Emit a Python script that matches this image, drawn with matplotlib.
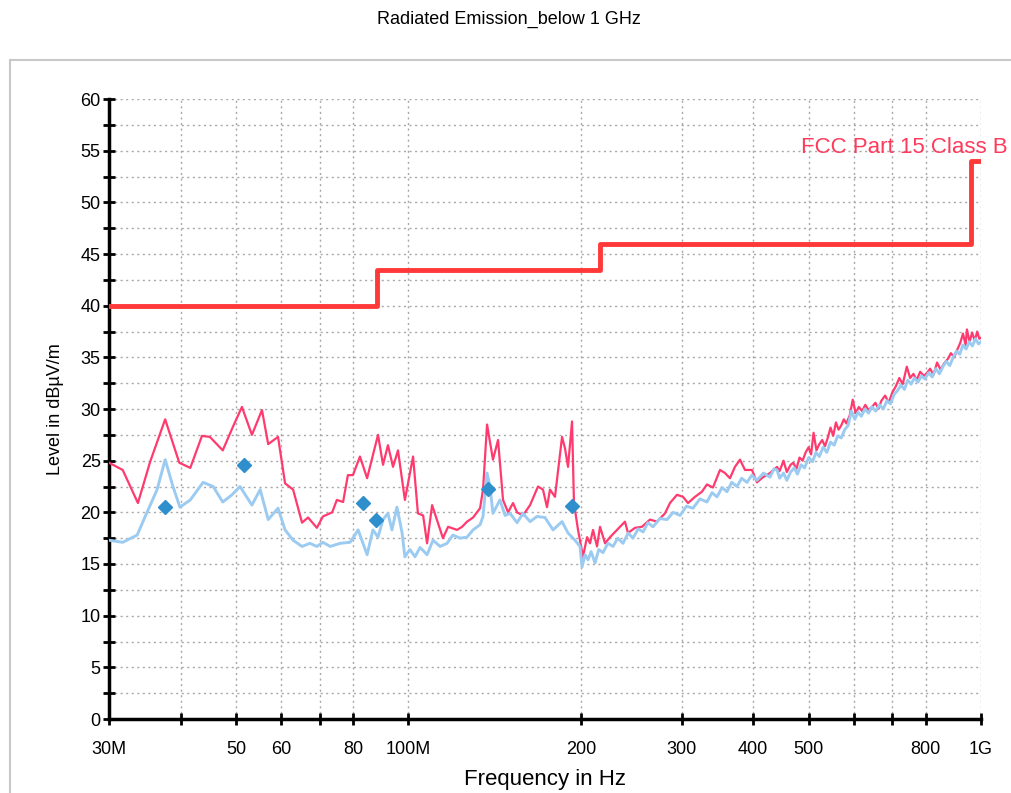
import numpy as np
import matplotlib
matplotlib.use('Agg')
import matplotlib.pyplot as plt
from matplotlib.patches import Rectangle
from matplotlib.ticker import MultipleLocator, NullLocator

plt.rcParams['font.family'] = ['Liberation Sans', 'DejaVu Sans']

# Peak trace (MHz, dBuV/m)
peak_freq = [30.0, 31.7, 33.7, 35.4, 37.6, 39.8, 41.6, 43.6, 45.0, 47.4, 49.4, 51.2, 53.3,
             55.5, 56.9, 59.2, 60.9, 62.9, 65.2, 66.8, 69.2, 70.9, 73.6, 75.0, 76.9, 78.4,
             80.0, 82.3, 84.7, 88.5, 90.3, 92.1, 94.0, 95.9, 98.6, 101.9, 103.9, 106.1,
             107.8, 110.0, 112.6, 114.9, 117.3, 121.6, 124.1, 126.6, 129.7, 133.4, 135.0,
             137.2, 140.5, 143.4, 146.3, 149.3, 152.3, 154.8, 158.5, 163.1, 168.4, 171.8,
             174.6, 176.7, 180.3, 185.5, 187.7, 190.0, 193.1, 194.6, 197.8, 201.8, 205.1,
             207.6, 210.1, 213.5, 216.1, 220.5, 225.0, 231.4, 238.9, 241.8, 248.7, 255.8,
             264.2, 271.7, 280.6, 286.3, 294.5, 301.7, 307.8, 316.6, 325.6, 332.2, 340.3,
             350.1, 357.2, 364.4, 371.8, 379.4, 387.1, 398.2, 406.2, 416.2, 428.0, 440.3,
             445, 452, 458, 465, 470, 476, 482, 488, 494, 500, 505, 510, 516, 522, 528, 534,
             540, 546, 552, 558, 564, 570, 576, 582, 590, 597, 604, 612, 620, 628, 636, 645,
             654, 662, 670, 680, 690, 700, 710, 720, 730, 742, 752, 762, 772, 783, 795, 805,
             815, 826, 838, 850, 862, 874, 886, 898, 910, 920, 930, 940, 945, 955, 965, 975,
             985, 993, 1000]
peak_level = [24.8, 24.1, 20.9, 24.9, 29.0, 24.8, 24.3, 27.4, 27.3, 26.0, 28.3, 30.2, 27.5,
              29.9, 26.6, 27.3, 22.8, 22.2, 19.0, 19.5, 18.5, 19.6, 20.0, 21.2, 21.0, 23.6,
              23.6, 25.4, 23.3, 27.5, 24.6, 26.5, 24.4, 26.0, 21.2, 25.4, 19.9, 19.7,
              17.0, 20.7, 19.0, 17.5, 18.6, 18.3, 18.6, 19.1, 19.5, 20.4, 22.2,
              28.5, 25.1, 27.0, 21.2, 20.0, 20.9, 20.0, 19.7, 20.7, 22.5, 22.2,
              20.5, 22.2, 21.5, 27.3, 26.2, 24.4, 28.8, 20.9, 18.3, 15.7, 17.6,
              17.0, 18.3, 16.7, 18.6, 17.0, 17.6, 18.3, 19.1, 18.0, 18.5, 18.6,
              19.3, 19.1, 19.9, 20.9, 21.7, 21.5, 20.9, 21.5, 22.0, 22.7, 22.4,
              24.1, 23.8, 23.3, 24.4, 25.1, 24.1, 24.1, 22.9, 23.4, 23.8, 24.4,
              24.0, 25.0, 23.9, 24.6, 24.8, 24.2, 25.3, 25.0, 25.8, 26.3, 25.6, 27.7, 26.0,
              26.6, 27.0, 26.4, 27.2, 28.2, 27.4, 28.7, 28.0, 28.4, 29.0, 28.6, 29.4, 30.9,
              29.6, 30.2, 29.8, 30.4, 29.9, 30.2, 30.6, 30.0, 30.8, 31.3, 30.6, 31.6, 32.2,
              33.0, 32.4, 34.1, 33.0, 33.4, 32.8, 33.6, 33.2, 33.5, 33.9, 33.3, 34.5, 33.8,
              34.4, 34.8, 35.4, 35.0, 35.8, 36.4, 37.3, 36.2, 37.7, 36.5, 37.4, 36.6, 37.5,
              36.8, 36.9]

# Average / QP trace
avg_freq = [30.0, 31.7, 33.6, 34.7, 36.4, 37.6, 38.8, 39.9, 41.6, 43.8, 45.6, 47.4, 49.2,
            50.8, 53.3, 55.1, 56.9, 59.2, 60.9, 62.9, 65.2, 67.3, 69.2, 70.9, 73.0, 76.0,
            79.1, 80.0, 81.7, 84.7, 86.7, 88.5, 90.3, 92.1, 93.6, 95.5, 97.5, 98.6, 100.6,
            102.7, 104.8, 107.8, 110.4, 113.6, 116.8, 119.6, 123.1, 126.6, 129.7, 133.4,
            135.0, 137.2, 138.8, 140.5, 144.5, 147.5, 150.5, 154.8, 158.5, 163.1, 167.7,
            173.2, 178.9, 185.5, 190.0, 195.4, 199.4, 201.0, 203.5, 205.9, 208.5, 211.8,
            215, 218.7, 223, 227.7, 232, 237, 242, 246.7, 252, 256.9, 262, 267.4, 275,
            282.9, 290, 298.1, 306, 314.1, 323, 332.2, 339, 345.9, 353, 360.1, 367, 374.9,
            382, 390.2, 398, 406.2, 417, 428, 435, 440.3,
            445, 452, 458, 465, 472, 478, 485, 492, 500, 508, 515, 522, 530, 538, 546, 554,
            562, 570, 578, 586, 594, 602, 610, 618, 627, 636, 645, 655, 665, 675, 685, 695,
            705, 715, 725, 735, 745, 755, 765, 776, 787, 798, 810, 822, 834, 846, 858, 870,
            882, 894, 906, 918, 930, 942, 954, 966, 978, 990, 1000]
avg_level = [17.3, 17.1, 17.8, 19.6, 22.2, 25.1, 22.5, 20.5, 21.2, 22.9, 22.5, 21.0, 21.7,
             22.5, 20.7, 22.2, 19.3, 20.4, 18.3, 17.3, 16.7, 17.0, 16.7, 17.1, 16.7, 17.0,
             17.1, 17.5, 18.3, 15.9, 18.3, 17.6, 19.3, 19.9, 18.3, 20.5, 18.0, 15.7, 16.4,
             15.7, 16.6, 15.9, 17.3, 16.7, 17.0, 17.8, 17.5, 17.6, 18.3, 18.8,
             19.6, 23.8, 22.5, 19.9, 21.2, 19.7, 19.9, 19.0, 19.9, 19.1, 19.6,
             19.5, 18.3, 19.1, 18.0, 17.3, 16.7, 14.7, 15.9, 15.4, 16.2, 15.1,
             16.4, 16.1, 17.0, 16.7, 17.5, 17.0, 18.0, 17.5, 18.4, 18.1, 19.0, 18.6, 19.4,
             19.3, 20.0, 19.7, 20.6, 20.4, 21.3, 21.0, 21.9, 21.5, 22.4, 22.0, 22.9, 22.5,
             23.3, 22.9, 23.6, 23.1, 23.8, 23.4, 24.2, 24.1,
             23.3, 23.8, 23.1, 23.9, 24.3, 23.7, 24.6, 24.3, 25.3, 24.9, 25.8, 25.4, 26.3,
             25.8, 26.8, 26.5, 27.4, 27.2, 28.0, 28.4, 29.8, 29.0, 29.7, 29.3, 30.0, 29.6,
             30.2, 29.8, 30.4, 30.0, 30.8, 30.5, 31.4, 31.8, 32.3, 31.9, 32.8, 32.4, 33.0,
             32.6, 33.2, 32.9, 33.5, 33.1, 33.9, 33.4, 34.1, 34.6, 34.2, 35.0, 35.6, 35.3,
             36.2, 35.8, 36.5, 36.1, 36.8, 36.3, 36.5]

# Final measurement points
marker_freq = [37.6, 51.6, 83.3, 87.8, 137.7, 193.0]
marker_level = [20.5, 24.6, 20.9, 19.3, 22.3, 20.6]

# FCC Part 15 Class B limit
limit_freq = [30, 88, 216, 960, 1000]
limit_level = [40, 43.5, 46, 54, 54]

x_ticks = [30, 40, 50, 60, 70, 80, 100, 200, 300, 400, 500, 600, 700, 800, 1000]
x_labels = ['30M', '', '50', '60', '', '80', '100M', '200', '300', '400', '500', '', '', '800', '1G']

fig = plt.figure(figsize=(10.12, 7.93), dpi=100)
fig.patches.append(Rectangle((10 / 1012, -0.01), 1.1, 1 - 60 / 793 + 0.01,
                             transform=fig.transFigure, fill=False,
                             edgecolor='#c8c8c8', linewidth=1.5))
fig.text(0.503, 1 - 19 / 793, 'Radiated Emission_below 1 GHz', ha='center', va='center', fontsize=13)

ax = fig.add_axes([109 / 1012, 1 - 719 / 793, 872 / 1012, 620 / 793])
ax.set_xscale('log')

ax.plot(peak_freq, peak_level, color='#ff3a6e', linewidth=1.6, zorder=3)
ax.plot(avg_freq, avg_level, color='#9ccbf2', linewidth=2.1, zorder=4)
ax.step(limit_freq, limit_level, where='post', color='#ff3838', linewidth=3.5, zorder=5)
ax.plot(marker_freq, marker_level, linestyle='none', marker='D', markersize=7.5,
        color='#2f8fcc', zorder=6)
ax.text(485, 55.3, 'FCC Part 15 Class B', color='#ff3a5c', fontsize=16,
        ha='left', va='center', clip_on=False)

ax.set_xlim(30, 1000)
ax.set_ylim(0, 60)
ax.set_xticks(x_ticks)
ax.set_xticklabels(x_labels)
ax.xaxis.set_minor_locator(NullLocator())
ax.yaxis.set_major_locator(MultipleLocator(5))
ax.yaxis.set_minor_locator(MultipleLocator(2.5))

ax.grid(which='both', color='#a8a8a8', linestyle=(0, (1.5, 2.5)), linewidth=1)
ax.set_axisbelow(True)
for side in ['top', 'right']:
    ax.spines[side].set_visible(False)
for side in ['left', 'bottom']:
    ax.spines[side].set_linewidth(2.5)
ax.tick_params(which='both', direction='inout', length=9, width=2, labelsize=13)
ax.tick_params(axis='y', pad=1.5)
ax.tick_params(axis='x', pad=11)

ax.set_xlabel('Frequency in Hz', fontsize=16, labelpad=8)
ax.set_ylabel('Level in dB\u00b5V/m', fontsize=13, labelpad=12)

fig.savefig('out.png', dpi=100)
